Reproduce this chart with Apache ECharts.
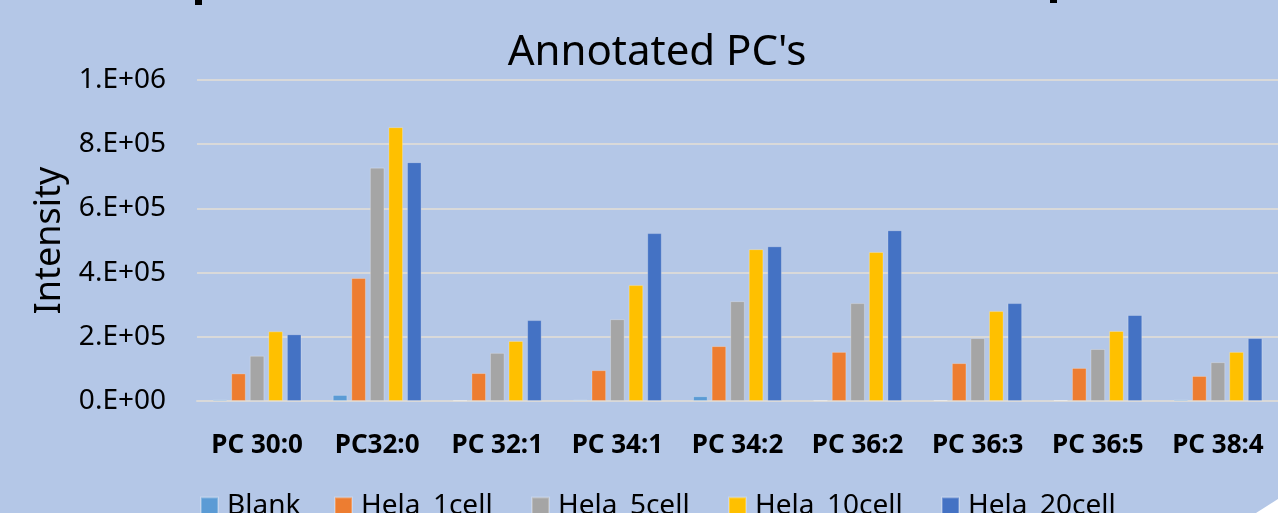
<!DOCTYPE html>
<html>
<head>
<meta charset="utf-8">
<script src="https://cdn.jsdelivr.net/npm/echarts@6/dist/echarts.min.js"></script>
<style>html,body{margin:0;padding:0;background:#B4C7E7;}#c{width:1278px;height:513px;}</style>
</head>
<body>
<div id="c"></div>
<script>
const categories = ['PC 30:0','PC32:0','PC 32:1','PC 34:1','PC 34:2','PC 36:2','PC 36:3','PC 36:5','PC 38:4'];
const blank     = [5000, 19000, 2000, 4000, 15000, 2000, 3000, 3000, 5000];
const hela1     = [86000, 383000, 87000, 96000, 171000, 153000, 118000, 103000, 78000];
const hela5     = [141000, 727000, 150000, 255000, 311000, 305000, 196000, 162000, 121000];
const hela10    = [217000, 853000, 187000, 361000, 473000, 464000, 280000, 218000, 153000];
const hela20    = [208000, 744000, 252000, 523000, 482000, 532000, 305000, 268000, 196000];
const seriesNames = ['Blank','Hela_1cell','Hela_5cell','Hela_10cell','Hela_20cell'];
const yTickLabels = ['0.E+00','2.E+05','4.E+05','6.E+05','8.E+05','1.E+06'];

const colors = ['#5B9BD5','#ED7D31','#A5A5A5','#FFC000','#4472C4'];
const values = [blank, hela1, hela5, hela10, hela20];
const legendLefts = [200, 334, 531, 728, 941];
const FONT = 'Noto Sans';

const chart = echarts.init(document.getElementById('c'));
chart.setOption({
  backgroundColor: '#B4C7E7',
  animation: false,
  textStyle: { fontFamily: FONT },
  title: {
    text: "Annotated PC's",
    left: 652, top: 27, textAlign: 'center',
    textStyle: { fontFamily: FONT, fontSize: 42, fontWeight: 'normal', color: '#000' }
  },
  legend: seriesNames.map((n, i) => ({
    data: [n], left: legendLefts[i], top: 492, padding: 0,
    itemWidth: 17, itemHeight: 17, itemGap: 8,
    icon: 'rect',
    textStyle: { fontFamily: FONT, fontSize: 28, color: '#000', padding: [0,0,0,4] }
  })),
  grid: { left: 197, right: -12.5, top: 80, bottom: 112, containLabel: false },
  xAxis: {
    type: 'category', data: categories,
    axisLine: { show: true, lineStyle: { color: '#D9D9D9', width: 2 } },
    axisTick: { show: false },
    axisLabel: { fontFamily: FONT, fontSize: 26, fontWeight: 'bold', color: '#000', margin: 32, interval: 0 }
  },
  yAxis: {
    type: 'value', min: 0, max: 1000000, interval: 200000,
    name: 'Intensity', nameLocation: 'middle', nameGap: 129, nameRotate: 90,
    nameTextStyle: { fontFamily: FONT, fontSize: 36, color: '#000' },
    axisLine: { show: false }, axisTick: { show: false },
    axisLabel: {
      fontFamily: FONT, fontSize: 28, color: '#000', margin: 31,
      formatter: v => yTickLabels[Math.round(v / 200000)]
    },
    splitLine: { lineStyle: { color: '#D9D9D9', width: 2 } }
  },
  series: seriesNames.map((n, i) => ({
    name: n, type: 'bar', data: values[i],
    barGap: '27%', barCategoryGap: '26%',
    itemStyle: { color: colors[i], borderColor: 'rgba(255,255,255,0.25)', borderWidth: 1 }
  })),
  graphic: [
    { type: 'polygon', silent: true, shape: { points: [[1256,513],[1278,499],[1278,513]] }, style: { fill: '#FFFFFF' } },
    { type: 'rect', silent: true, shape: { x: 195, y: 0, width: 7, height: 5 }, style: { fill: '#000' } },
    { type: 'rect', silent: true, shape: { x: 1050, y: 0, width: 7, height: 3 }, style: { fill: '#000' } }
  ]
});
</script>
</body>
</html>
